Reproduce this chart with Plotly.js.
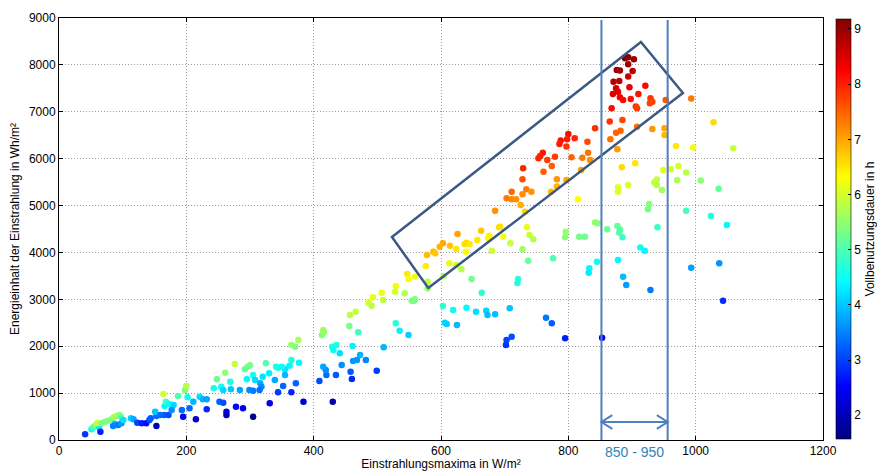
<!DOCTYPE html>
<html><head><meta charset="utf-8">
<script src="https://cdn.plot.ly/plotly-3.0.1.min.js"></script>
<style>html,body{margin:0;padding:0;background:#fff}</style>
</head><body><div id="chart" style="width:877px;height:471px"></div>
<script>
// Einstrahlungsmaxima in W/m²
const irradianceMax = [
41,51,54,58,63,65,60,67,72,77,83,86,91,95,97,88,93,98,85,101,113,117,123,130,137,142,144,153,153,151,159,164,165,172,166,168,173,180,177,187,193,195,198,200,202,205,211,215,221,226,232,232,243,248,252,258,255,261,258,263,263,269,270,276,278,284,289,292,296,300,295,305,305,308,
486,491,509,457,466,456,470,529,535,549,554,558,415,413,416,365,371,376,429,436,461,431,441,473,468,462,482,510,365,377,362,355,344,341,350,330,325,320,339,355,352,372,344,365,316,318,315,299,305,331,384,430,409,420,419,415,435,444,458,460,499,
685,663,676,674,691,657,626,640,645,637,624,614,603,598,639,588,591,578,576,613,624,632,604,648,680,559,547,549,579,579,529,528,543,507,493,559,603,619,640,655,671,673,685,606,609,625,664,
842,875,882,866,800,798,810,788,786,797,830,831,877,805,822,834,760,756,753,767,779,774,761,797,782,729,728,734,742,728,711,703,711,718,725,782,773,820,815,884,905,894,878,878,732,693,698,735,739,745,709,796,795,817,826,842,846,861,877,881,880,885,776,737,728,845,878,
889,894,903,894,876,881,901,894,871,880,896,875,870,878,881,886,898,910,921,906,908,929,932,928,953,993,868,865,885,908,932,951,951,1028,969,996,1059,935,939,939,949,961,973,985,971,1008,1036,947,
927,925,985,1024,1049,940,913,920,833,832,886,891,929,993,1037,1043,795,853,
721,720,708,765,774,711,703,702
];
// Energieinhalt der Einstrahlung in Wh/m²
const energyContent = [
120,228,270,320,270,177,356,356,391,412,441,484,512,533,497,341,320,356,299,427,462,441,370,356,356,427,462,299,512,604,533,981,533,533,725,818,768,747,640,939,640,497,1067,1152,910,676,818,441,924,868,868,655,1102,1294,818,796,1137,1436,1067,604,533,1244,1081,1621,711,1067,676,1508,1560,1595,1294,1386,497,1280,
2929,2865,2986,2666,2737,2432,2297,2489,2332,2240,2971,2971,2346,2240,2297,2026,1990,2133,1990,2026,2005,1920,1849,1813,1707,1685,1707,1977,1707,1650,1585,1508,1543,1564,1564,1422,1636,1351,1280,1386,1152,1209,1017,1017,1209,1137,1067,1067,1052,782,818,818,1258,1386,1493,1564,1386,1600,1457,1301,1479,
4891,4465,4358,4302,4537,4266,4394,4209,4181,4181,4074,4145,4195,4124,4017,4017,3982,3946,3712,3769,3733,3641,3498,3434,4038,3484,3541,3427,3377,3235,3285,3164,3128,3143,3044,3001,2858,2773,2822,2737,2758,2666,2681,2503,2474,2453,3143,
6648,6555,6598,6414,6527,6414,6435,6385,6314,6257,6363,6128,6200,6030,6022,5972,6128,6058,6008,5972,6043,5845,5723,5546,5561,5796,5561,5348,5297,5241,5297,5156,5135,5135,5013,5404,5297,5760,5135,5818,5903,5440,5391,5297,4870,4550,4337,4537,4373,4281,4195,4444,4323,4337,4337,4636,4622,4494,4565,4494,4422,4323,3876,3825,4067,3804,3840,
8142,8163,8120,8014,7892,7878,7871,7750,7643,7657,7523,7501,7380,7429,7310,7252,7274,7380,7557,7110,7074,7289,7216,7182,7252,7281,7076,6790,6826,6683,6634,6648,6506,6776,6271,6236,6221,5490,5555,5440,5760,5774,5845,5703,5540,5533,5360,5333,
5034,4921,4891,4778,4586,4537,4103,4038,3662,3569,3484,3306,3200,3676,3769,2971,2169,2182,
3434,3349,2808,2609,2489,2204,2133,2026
];
// Vollbenutzungsdauer in h = Energieinhalt / Einstrahlungsmaximum
const fullLoadHours = energyContent.map((e, i) => e / irradianceMax[i]);

const xTickVals = [0, 200, 400, 600, 800, 1000, 1200];
const yTickVals = [0, 1000, 2000, 3000, 4000, 5000, 6000, 7000, 8000, 9000];
const colorTickVals = [2, 3, 4, 5, 6, 7, 8, 9];
const rangeLabel = '850 - 950';
const rangeBounds = [852, 956];

const jet = [[0,'#000080'],[0.125,'#0000ff'],[0.375,'#00ffff'],[0.625,'#ffff00'],[0.875,'#ff0000'],[1,'#800000']];
const fontFam = '"Liberation Sans", Arial, sans-serif';

const trace = {
  type: 'scatter', mode: 'markers',
  x: irradianceMax, y: energyContent,
  marker: {
    size: 6.5, color: fullLoadHours, colorscale: jet, cmin: 1.57, cmax: 9.18,
    line: {width: 0},
    colorbar: {
      x: 1.017, xanchor: 'left', y: 0.5, yanchor: 'middle',
      len: 0.995, lenmode: 'fraction', thickness: 15, thicknessmode: 'pixels',
      outlinecolor: '#000', outlinewidth: 0.6,
      tickvals: colorTickVals, ticks: 'inside', ticklen: 3, tickcolor: '#000',
      tickfont: {family: fontFam, size: 12, color: '#000'},
      xpad: 0, ypad: 0,
      title: {text: 'Vollbenutzungsdauer in h', side: 'right', font: {family: fontFam, size: 12, color: '#000'}}
    }
  },
  hoverinfo: 'x+y'
};

const boxColor = '#3a5a85';
const lineColor = '#4f7fbd';
const yArrow = 384;
const shapes = [
  {type: 'path', xref: 'x', yref: 'y', path: 'M 523 4329 L 580 3241 L 980 7400 L 914 8488 Z', line: {color: boxColor, width: 2.5}, fillcolor: 'rgba(0,0,0,0)'},
  {type: 'line', xref: 'x', yref: 'y', x0: rangeBounds[0], x1: rangeBounds[0], y0: 0, y1: 8960, line: {color: lineColor, width: 2}},
  {type: 'line', xref: 'x', yref: 'y', x0: rangeBounds[1], x1: rangeBounds[1], y0: 0, y1: 8960, line: {color: lineColor, width: 2}},
  {type: 'line', xref: 'x', yref: 'y', x0: rangeBounds[0], x1: rangeBounds[1], y0: yArrow, y1: yArrow, line: {color: lineColor, width: 2}},
  {type: 'path', xref: 'x', yref: 'y', path: `M ${rangeBounds[0]+17} ${yArrow+145} L ${rangeBounds[0]} ${yArrow} L ${rangeBounds[0]+17} ${yArrow-145}`, line: {color: lineColor, width: 2}},
  {type: 'path', xref: 'x', yref: 'y', path: `M ${rangeBounds[1]-17} ${yArrow+145} L ${rangeBounds[1]} ${yArrow} L ${rangeBounds[1]-17} ${yArrow-145}`, line: {color: lineColor, width: 2}}
];

const axisCommon = {
  showline: true, linecolor: '#000', linewidth: 1, mirror: 'ticks',
  ticks: 'inside', ticklen: 4, tickcolor: '#000',
  showgrid: true, gridcolor: '#9c9c9c', gridwidth: 1, griddash: '1px,2px',
  zeroline: false, tickfont: {family: fontFam, size: 12, color: '#000'}
};

const layout = {
  width: 877, height: 471,
  margin: {l: 59, r: 54, t: 18, b: 31, autoexpand: false},
  paper_bgcolor: '#fff', plot_bgcolor: '#fff',
  showlegend: false,
  font: {family: fontFam, size: 12, color: '#000'},
  xaxis: Object.assign({}, axisCommon, {
    range: [0, 1200], tickvals: xTickVals, automargin: false,
    title: {text: 'Einstrahlungsmaxima in W/m²', standoff: 0, font: {family: fontFam, size: 12, color: '#000'}}
  }),
  yaxis: Object.assign({}, axisCommon, {
    range: [0, 9000], tickvals: yTickVals, automargin: false,
    title: {text: 'Energieinhalt der Einstrahlung in Wh/m²', standoff: 6, font: {family: fontFam, size: 12, color: '#000'}}
  }),
  shapes: shapes,
  annotations: [
    {text: rangeLabel, xref: 'x', yref: 'paper', x: (rangeBounds[0]+rangeBounds[1])/2, y: -0.028, xanchor: 'center', yanchor: 'middle', showarrow: false, font: {family: fontFam, size: 14, color: '#2e86b8'}}
  ]
};

Plotly.newPlot('chart', [trace], layout, {displayModeBar: false, staticPlot: true});
</script>
</body></html>
